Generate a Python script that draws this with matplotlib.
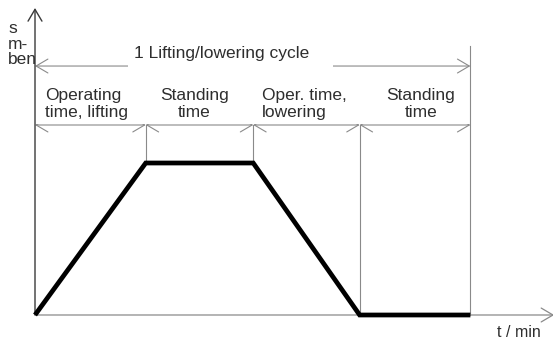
import matplotlib
matplotlib.use("Agg")
import matplotlib.pyplot as plt
from matplotlib.patches import Rectangle, FancyArrowPatch

# ---- data ----
phase_bounds = [0.0, 1.03, 2.03, 3.02, 4.05]          # t at phase boundaries
curve_t = [0.0, 1.03, 2.03, 3.02, 4.05]
curve_s = [0.0, 1.0, 1.0, 0.0, 0.0]
phase_labels = ["Operating\ntime, lifting", "Standing\ntime",
                "Oper. time,\nlowering", "Standing\ntime"]
cycle_label = "1 Lifting/lowering cycle"
y_label = "s\nm-\nben"
x_label = "t / min"

# ---- layout ----
FONT = "Liberation Sans"
FS = 12.5
TXT = "#2e2e2e"
GRAY = "#8a8a8a"
AX = "#3a3a3a"

y_seg = 1.25      # level of the phase arrows
y_cyc = 1.638     # level of the cycle arrow
y_top470 = 1.77
x_tip = 4.83
y_tip = 2.02

fig = plt.figure(figsize=(5.53, 3.40), dpi=100)
ax = fig.add_axes([0, 0, 1, 1])
ax.set_xlim(-0.3256, 4.8186)
ax.set_ylim(-0.1645, 2.0724)
ax.axis("off")

head = "->,head_length=0.85,head_width=0.5"
dhead = "<->,head_length=0.85,head_width=0.5"


def arrow(p0, p1, style, lw, color, z):
    ax.add_patch(FancyArrowPatch(p0, p1, arrowstyle=style, mutation_scale=10,
                                 lw=lw, color=color, shrinkA=0, shrinkB=0, zorder=z,
                                 clip_on=False))


# phase double arrows (upper halves of heads hidden by label area)
for a, b in zip(phase_bounds[:-1], phase_bounds[1:]):
    arrow((a, y_seg), (b, y_seg), dhead, 0.8, GRAY, 1)

# white label area hiding upper halves of heads
ax.add_patch(Rectangle((phase_bounds[0] - 0.1, y_seg + 0.006),
                       phase_bounds[-1] - phase_bounds[0] + 0.2,
                       1.585 - (y_seg + 0.006), facecolor="white", edgecolor="none", zorder=2))

# cycle arrow
arrow((phase_bounds[0], y_cyc), (phase_bounds[-1], y_cyc), dhead, 0.8, GRAY, 1)
ax.add_patch(Rectangle((0.865, y_cyc - 0.03), 2.772 - 0.865, 0.06,
                       facecolor="white", edgecolor="none", zorder=2))

# vertical boundary lines
ax.plot([phase_bounds[1]] * 2, [y_seg, curve_s[1]], color=GRAY, lw=0.8, zorder=3)
ax.plot([phase_bounds[2]] * 2, [y_seg, curve_s[2]], color=GRAY, lw=0.8, zorder=3)
ax.plot([phase_bounds[3]] * 2, [y_seg, 0], color=GRAY, lw=0.8, zorder=3)
ax.plot([phase_bounds[4]] * 2, [y_top470, 0], color=GRAY, lw=0.8, zorder=3)

# axes
arrow((0, 0), (0, y_tip), head, 1.0, AX, 4)
arrow((0, 0), (x_tip, 0), head, 0.9, GRAY, 4)

# curve
ax.plot(curve_t, curve_s, color="black", lw=3.4, solid_joinstyle="miter",
        solid_capstyle="butt", zorder=5)

# texts
kw = dict(fontfamily=FONT, fontsize=FS, color=TXT, zorder=6)
ax.text(1.74, 1.691, cycle_label, ha="center", va="baseline", **kw)
lab_x = [0.093, 1.484, 2.112, 3.591]
lab_ha = ["left", "center", "left", "center"]
for x, s, h in zip(lab_x, phase_labels, lab_ha):
    ax.text(x, 1.303, s, ha=h, va="baseline", multialignment=h, linespacing=1.2, **kw)
ax.text(-0.251, 1.651, y_label, ha="left", va="baseline", linespacing=1.03, **kw)
ax.text(4.30, -0.148, x_label, ha="left", va="baseline",
        fontfamily=FONT, fontsize=11.5, color=TXT, zorder=6)

fig.savefig("out.png", dpi=100)
